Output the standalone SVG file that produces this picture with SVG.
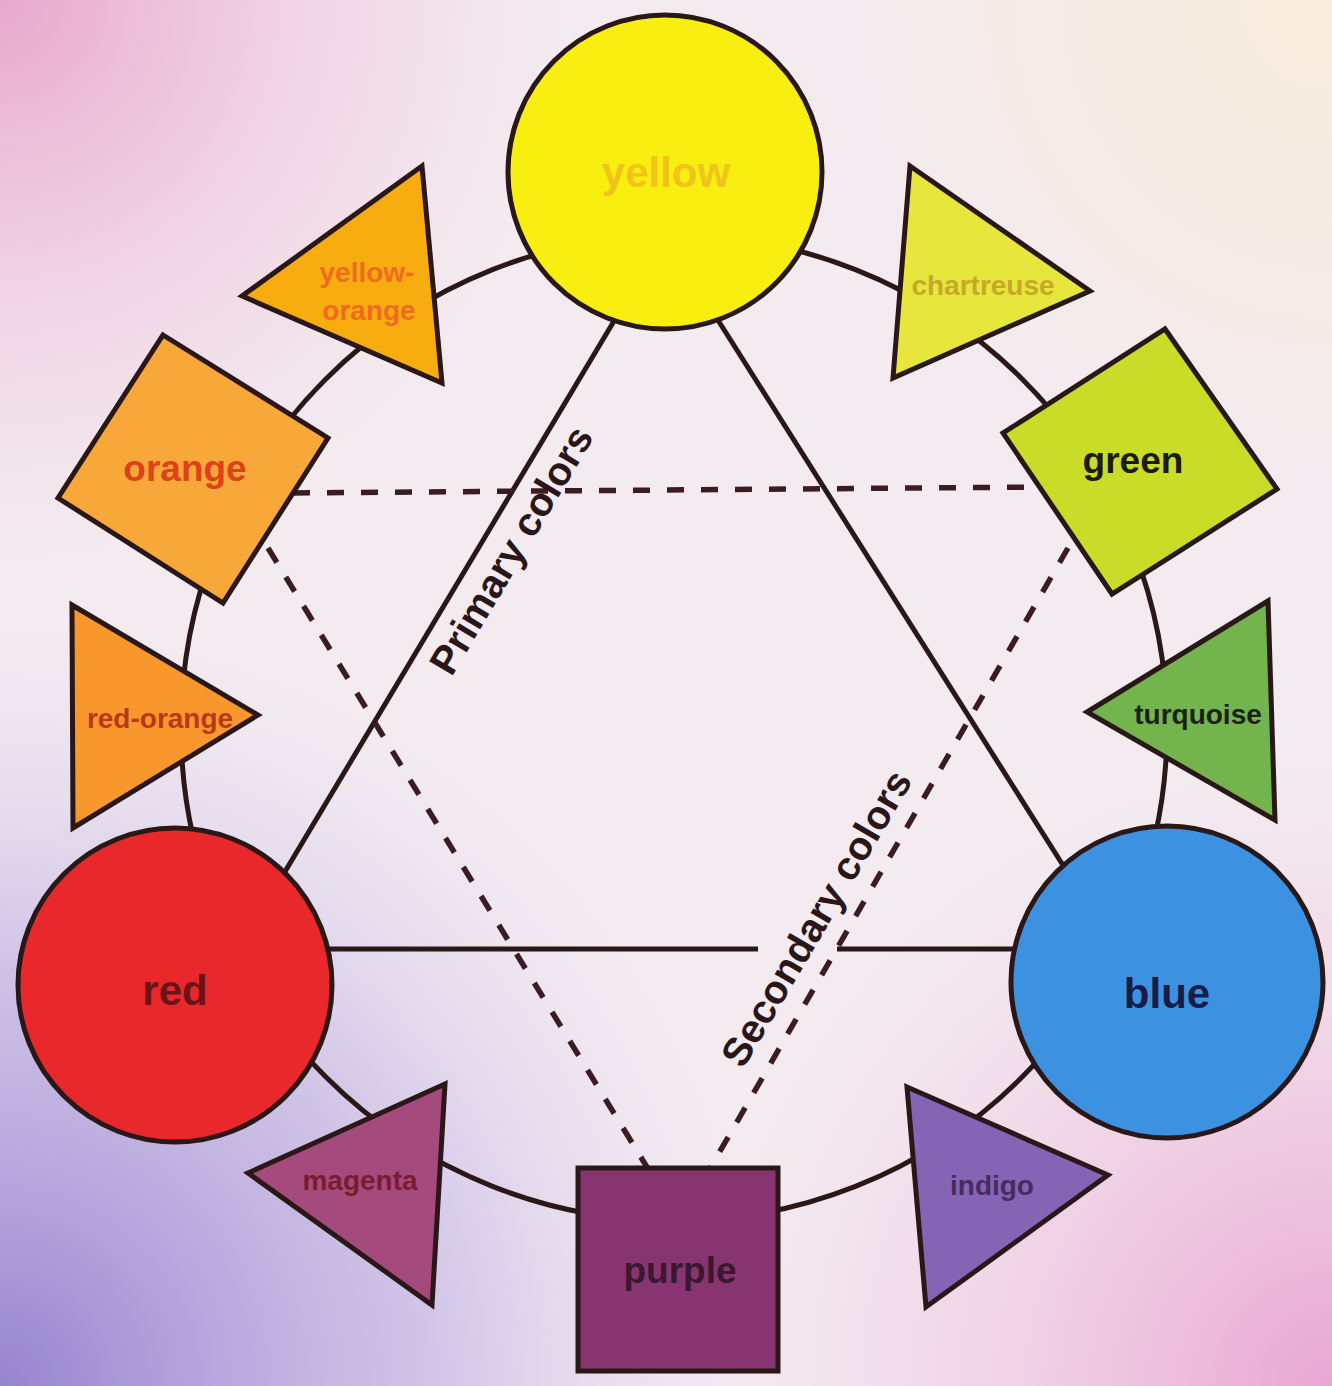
<svg xmlns="http://www.w3.org/2000/svg" width="1332" height="1386" viewBox="0 0 1332 1386">
<defs>
<radialGradient id="bgBL" cx="0" cy="1386" r="760" gradientUnits="userSpaceOnUse">
<stop offset="0" stop-color="#9584cf" stop-opacity="1"/>
<stop offset="0.55" stop-color="#b6a8e0" stop-opacity="0.6"/>
<stop offset="1" stop-color="#d8d0f0" stop-opacity="0"/>
</radialGradient>
<radialGradient id="bgTL" cx="0" cy="0" r="560" gradientUnits="userSpaceOnUse">
<stop offset="0" stop-color="#e8a8cc" stop-opacity="1"/>
<stop offset="1" stop-color="#f0c8dc" stop-opacity="0"/>
</radialGradient>
<radialGradient id="bgBR" cx="1332" cy="1386" r="620" gradientUnits="userSpaceOnUse">
<stop offset="0" stop-color="#e8a6d2" stop-opacity="1"/>
<stop offset="1" stop-color="#f0c8e0" stop-opacity="0"/>
</radialGradient>
<radialGradient id="bgTR" cx="1332" cy="0" r="500" gradientUnits="userSpaceOnUse">
<stop offset="0" stop-color="#f8ecdc" stop-opacity="1"/>
<stop offset="1" stop-color="#f8ecdc" stop-opacity="0"/>
</radialGradient>
<style>
.ln{fill:none;stroke:#2a1818;stroke-width:5;stroke-linecap:butt}
.dash{fill:none;stroke:#3a1c22;stroke-width:5.5;stroke-dasharray:17 17}
.shape{stroke:#2a1818;stroke-width:5;stroke-linejoin:miter}
.lbl{font-family:"Liberation Sans",Arial,sans-serif;font-weight:bold;text-anchor:middle;dominant-baseline:central}
.big{font-size:42px}
.sq{font-size:37px}
.tri{font-size:28px}
.axis{font-family:"Liberation Sans",Arial,sans-serif;font-weight:bold;font-size:40px;fill:#2a1618;text-anchor:middle;dominant-baseline:central}
</style>
</defs>
<rect x="0" y="0" width="1332" height="1386" fill="#f3ebf0"/>
<rect x="0" y="0" width="1332" height="1386" fill="url(#bgTR)"/>
<rect x="0" y="0" width="1332" height="1386" fill="url(#bgTL)"/>
<rect x="0" y="0" width="1332" height="1386" fill="url(#bgBR)"/>
<rect x="0" y="0" width="1332" height="1386" fill="url(#bgBL)"/>

<g id="connectors">
<circle class="ln" cx="674" cy="728" r="493"/>
<line class="ln" x1="620" y1="311" x2="280" y2="880"/>
<line class="ln" x1="716" y1="317" x2="1066" y2="870"/>
<line class="ln" x1="200" y1="949" x2="758" y2="949"/>
<line class="ln" x1="837" y1="949" x2="1120" y2="949"/>
<line class="dash" x1="293" y1="493" x2="1040" y2="487"/>
<line class="dash" x1="268" y1="548" x2="650" y2="1172"/>
<line class="dash" x1="1068" y1="548" x2="708" y2="1172"/>
<text class="axis" x="511" y="550" transform="rotate(-59.3 511 550)">Primary colors</text>
<text class="axis" x="816" y="918" transform="rotate(-59.5 816 918)">Secondary colors</text>
</g>

<g id="node-yellow">
<circle class="shape" cx="665" cy="172" r="157" fill="#f8ee10"/>
<text class="lbl big" x="666" y="172" fill="#f0c418">yellow</text>
</g>
<g id="node-yellow-orange">
<polygon class="shape" points="422,166 242,296 442,383" fill="#f7ac10"/>
<text class="lbl tri" x="367" y="272" fill="#f06a20">yellow-</text>
<text class="lbl tri" x="369" y="310" fill="#f06a20">orange</text>
</g>
<g id="node-chartreuse">
<polygon class="shape" points="910,166 1090,291 893,378" fill="#e6e63c"/>
<text class="lbl tri" x="983" y="285" fill="#c8a828">chartreuse</text>
</g>
<g id="node-orange">
<polygon class="shape" points="163,335 328,438 223,603 58,498" fill="#f8a838"/>
<text class="lbl sq" x="185" y="468" fill="#e0401c">orange</text>
</g>
<g id="node-green">
<polygon class="shape" points="1165,329 1277,489 1112,594 1003,433" fill="#c8dc28"/>
<text class="lbl sq" x="1133" y="460" fill="#1e1a10">green</text>
</g>
<g id="node-red-orange">
<polygon class="shape" points="72,605 258,715 73,828" fill="#f8982c"/>
<text class="lbl tri" x="160" y="718" fill="#b83818">red-orange</text>
</g>
<g id="node-turquoise">
<polygon class="shape" points="1268,601 1087,712 1275,820" fill="#74b44c"/>
<text class="lbl tri" x="1198" y="714" fill="#1a2218">turquoise</text>
</g>
<g id="node-red">
<circle class="shape" cx="175" cy="985" r="157" fill="#e8282a"/>
<text class="lbl big" x="175" y="990" fill="#6a1418">red</text>
</g>
<g id="node-blue">
<circle class="shape" cx="1167" cy="982" r="156" fill="#3c92e0"/>
<text class="lbl big" x="1167" y="993" fill="#1a1c48">blue</text>
</g>
<g id="node-magenta">
<polygon class="shape" points="445,1084 248,1173 432,1305" fill="#a44a7c"/>
<text class="lbl tri" x="360" y="1180" fill="#7a1c30">magenta</text>
</g>
<g id="node-purple">
<rect class="shape" x="578" y="1168" width="200" height="203" fill="#883470"/>
<text class="lbl sq" x="680" y="1270" fill="#3a1830">purple</text>
</g>
<g id="node-indigo">
<polygon class="shape" points="907,1087 1108,1175 926,1307" fill="#8464b4"/>
<text class="lbl tri" x="992" y="1185" fill="#4a2a60">indigo</text>
</g>
</svg>
